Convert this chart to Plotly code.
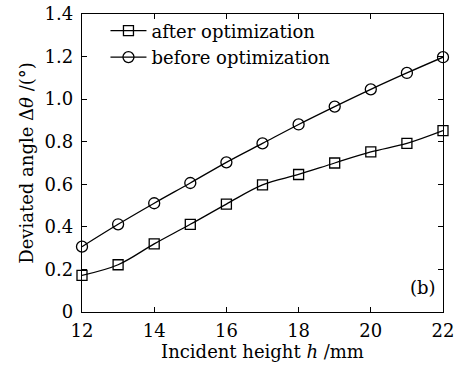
import plotly.graph_objects as go

h = [12, 13, 14, 15, 16, 17, 18, 19, 20, 21, 22]
after_opt = [0.172, 0.222, 0.32, 0.412, 0.507, 0.597, 0.646, 0.70, 0.752, 0.792, 0.852]
before_opt = [0.307, 0.412, 0.511, 0.606, 0.703, 0.792, 0.881, 0.965, 1.046, 1.123, 1.197]
x_ticks = [12, 14, 16, 18, 20, 22]
y_ticks = [0, 0.2, 0.4, 0.6, 0.8, 1.0, 1.2, 1.4]
y_labels = ["0", "0.2", "0.4", "0.6", "0.8", "1.0", "1.2", "1.4"]

FONT = "DejaVu Serif"
FS = 18
fig = go.Figure()
fig.add_trace(go.Scatter(
    x=h, y=after_opt, name="after optimization", mode="lines+markers",
    line=dict(color="black", width=1.3, shape="spline", smoothing=1.0),
    marker=dict(symbol="square-open", size=10, color="black", line=dict(width=1.3)),
    cliponaxis=False))
fig.add_trace(go.Scatter(
    x=h, y=before_opt, name="before optimization", mode="lines+markers",
    line=dict(color="black", width=1.3, shape="spline", smoothing=1.0),
    marker=dict(symbol="circle-open", size=11, color="black", line=dict(width=1.3)),
    cliponaxis=False))

axis_common = dict(showgrid=False, zeroline=False, showline=True, linecolor="black",
                   linewidth=1.3, mirror="ticks", ticks="inside", ticklen=5,
                   tickcolor="black", automargin=False,
                   tickfont=dict(family=FONT, size=FS, color="black"))
fig.update_xaxes(range=[12, 22], tickvals=x_ticks, **axis_common, ticklabelstandoff=2,
                 title=dict(text="Incident height <i>h</i> /mm",
                            font=dict(family=FONT, size=FS, color="black"), standoff=4))
fig.update_yaxes(range=[0, 1.4], tickvals=y_ticks, ticktext=y_labels, **axis_common,
                 ticklabelstandoff=4,
                 title=dict(text="Deviated angle Δ<i>θ</i> /(°)",
                            font=dict(family=FONT, size=FS, color="black"), standoff=6))
fig.add_annotation(x=0.985, y=0.04, xref="paper", yref="paper", text="(b)",
                   showarrow=False, xanchor="right", yanchor="bottom",
                   font=dict(family=FONT, size=FS, color="black"))
fig.update_layout(
    width=459, height=367, plot_bgcolor="white", paper_bgcolor="white",
    margin=dict(l=82, r=16, t=14, b=55),
    legend=dict(x=0.065, y=1.005, xanchor="left", yanchor="top", bgcolor="rgba(0,0,0,0)",
                font=dict(family=FONT, size=FS, color="black"), itemwidth=36,
                tracegroupgap=0),
    showlegend=True)
fig.write_html("out.html")
